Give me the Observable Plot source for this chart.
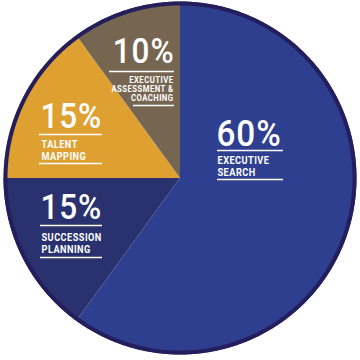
<!DOCTYPE html>
<html><head><meta charset="utf-8">
<script src="https://cdn.jsdelivr.net/npm/d3@7"></script>
<script src="https://cdn.jsdelivr.net/npm/@observablehq/plot@0.6"></script>
<style>
body{margin:0;background:#fff}
#c{width:360px;height:360px;overflow:hidden}
</style>
</head><body><div id="c"></div>
<script>
// ---- data ----
const segments = ["EXECUTIVE SEARCH", "SUCCESSION PLANNING", "TALENT MAPPING", "EXECUTIVE ASSESSMENT & COACHING"];
const shares = [60, 15, 15, 10];
const colors = ["#2f3f8f", "#29326f", "#dfa032", "#766651"];
const pctLabels = ["60%", "15%", "15%", "10%"];
const nameLabels = ["EXECUTIVE\nSEARCH", "SUCCESSION\nPLANNING", "TALENT\nMAPPING", "EXECUTIVE\nASSESSMENT &\nCOACHING"];

// ---- layout (pixels) ----
const W = 360, H = 360;
const M = {left: 3, right: 4, top: 1, bottom: 6};
const cx = (M.left + W - M.right) / 2, cy = (M.top + H - M.bottom) / 2;
const R = (W - M.right - M.left) / 2;
const px2x = p => (p - cx) / R;
const px2y = p => (cy - p) / R;
// per segment: pct anchor, first rule, name anchor, second rule
const layout = [
  {anchor: "start", px: 216, pb: 145, r1: 150, r1a: 217, r1b: 283, nx: 217, nb: 175, r2: 179, r2a: 217, r2b: 283, pfs: 37, nfs: 10, lh: 1.2},
  {anchor: "start", px: 40, pb: 218, r1: 225, r1a: 40, r1b: 102, nx: 41, nb: 252, r2: 257, r2a: 40, r2b: 102, pfs: 35, nfs: 10, lh: 1.2},
  {anchor: "start", px: 40, pb: 127, r1: 134, r1a: 39, r1b: 102, nx: 41, nb: 159, r2: 163, r2a: 39, r2b: 102, pfs: 35, nfs: 10, lh: 1.2},
  {anchor: "end", px: 174, pb: 62, r1: 71, r1a: 109, r1b: 174, nx: 173, nb: 100, r2: 105, r2a: 133, r2b: 174, pfs: 35, nfs: 8.4, lh: 1.07}
];

// ---- slices from d3.pie ----
const arcs = d3.pie().sort(null).startAngle(0).endAngle(2 * Math.PI)(shares);
const slicePts = [];
arcs.forEach((a, i) => {
  slicePts.push({seg: segments[i], x: 0, y: 0});
  const n = Math.max(2, Math.ceil((a.endAngle - a.startAngle) / (Math.PI / 360)));
  for (let k = 0; k <= n; k++) {
    const t = a.startAngle + (a.endAngle - a.startAngle) * k / n;
    slicePts.push({seg: segments[i], x: Math.sin(t), y: Math.cos(t)});
  }
});
const ringR = (R - 2) / R;
const ring = d3.range(0, 721).map(k => {
  const t = k / 720 * 2 * Math.PI;
  return {x: ringR * Math.sin(t), y: ringR * Math.cos(t)};
});

const pctData = segments.map((s, i) => ({seg: s, text: pctLabels[i], L: layout[i]}));
const nameData = segments.map((s, i) => ({seg: s, text: nameLabels[i], L: layout[i]}));
const rules = [];
layout.forEach((L, i) => {
  rules.push({x1: px2x(L.r1a), x2: px2x(L.r1b), y: px2y(L.r1)});
  rules.push({x1: px2x(L.r2a), x2: px2x(L.r2b), y: px2y(L.r2)});
});

const font = "Roboto, 'Liberation Sans', sans-serif";
const marks = [
  Plot.line(slicePts, {x: "x", y: "y", z: "seg", fill: "seg", stroke: "none", curve: "linear-closed"}),
  Plot.line(ring, {x: "x", y: "y", stroke: "#241f5c", strokeWidth: 4, curve: "linear-closed"}),
  Plot.ruleY(rules, {x1: "x1", x2: "x2", y: "y", stroke: "#ffffff", strokeWidth: 1.6})
];
pctData.forEach(d => {
  marks.push(Plot.text([d], {x: px2x(d.L.px), y: px2y(d.L.pb), text: "text", fill: "#fff", fontSize: d.L.pfs, fontWeight: 500, fontFamily: font, textAnchor: d.L.anchor, lineAnchor: "bottom"}));
});
nameData.forEach(d => {
  marks.push(Plot.text([d], {x: px2x(d.L.nx), y: px2y(d.L.nb), text: "text", fill: "#fff", fontSize: d.L.nfs, fontWeight: "bold", fontFamily: font, textAnchor: d.L.anchor, lineAnchor: "bottom", lineHeight: d.L.lh}));
});

const chart = Plot.plot({
  width: W, height: H,
  marginLeft: M.left, marginRight: M.right, marginTop: M.top, marginBottom: M.bottom,
  x: {domain: [-1, 1], axis: null},
  y: {domain: [-1, 1], axis: null},
  color: {domain: segments, range: colors},
  style: {background: "#fff", overflow: "visible"},
  marks
});
d3.select(chart).selectAll("text").each(function() {
  const fs = +this.parentNode.getAttribute("font-size") || 10;
  const t = this.getAttribute("transform") || "";
  if (fs > 20) {
    d3.select(this).attr("transform", t + " scale(0.9,1)").attr("letter-spacing", "1px");
  } else {
    d3.select(this).attr("transform", t + " scale(0.92,1)").attr("letter-spacing", "0.5px");
  }
});
document.getElementById("c").appendChild(chart);
</script>
</body></html>
